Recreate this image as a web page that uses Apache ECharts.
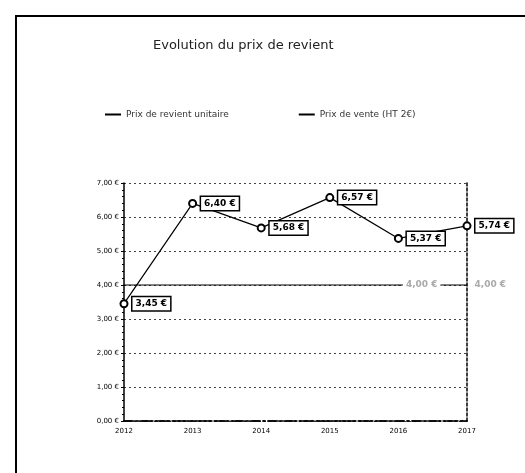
<!DOCTYPE html>
<html><head><meta charset="utf-8">
<script src="https://cdn.jsdelivr.net/npm/echarts@6/dist/echarts.min.js"></script>
<style>html,body{margin:0;padding:0;background:#fff}#c{width:525px;height:473px}</style>
</head><body><div id="c"></div>
<script>
const years = ['2012','2013','2014','2015','2016','2017'];
const prixRevient = [3.45, 6.40, 5.68, 6.57, 5.37, 5.74];
const prixVente = [4.00, 4.00, 4.00, 4.00, 4.00, 4.00];
const yTicks = [0,1,2,3,4,5,6,7];
const titleText = 'Evolution du prix de revient';
const seriesNames = ['Prix de revient unitaire', 'Prix de vente (HT 2€)'];

const fmt = v => v.toFixed(2).replace('.', ',') + ' €';
const chart = echarts.init(document.getElementById('c'));
chart.setOption({
  animation: false,
  backgroundColor: '#fff',
  title: { text: titleText, left: 148, top: 34, textStyle: { fontFamily: 'DejaVu Sans', fontSize: 13, fontWeight: 'normal', color: '#222' } },
  legend: {
    top: 105, left: 100, itemGap: 70, itemWidth: 16, itemHeight: 2,
    textStyle: { fontFamily: 'DejaVu Sans', fontSize: 9, color: '#333' },
    data: [{ name: seriesNames[0], icon: 'rect' }, { name: seriesNames[1], icon: 'rect' }]
  },
  graphic: [{ type: 'polyline', shape: { points: [[16, 480], [16, 16], [530, 16]] }, style: { stroke: '#000', lineWidth: 2, fill: null } }],
  grid: { left: 124, right: 58, top: 183, bottom: 52 },
  xAxis: [{
    type: 'category', data: years, boundaryGap: false,
    axisLine: { lineStyle: { color: '#000', type: [8, 3, 2, 3], width: 1.5 } },
    axisTick: { show: false },
    axisLabel: { fontFamily: 'DejaVu Sans', fontSize: 7, color: '#000', margin: 7 }
  }, {
    type: 'category', data: years, boundaryGap: false, position: 'top',
    axisLine: { show: true, lineStyle: { color: '#000', type: [10, 3, 2, 3], width: 1.5 } },
    axisTick: { show: false }, axisLabel: { show: false }
  }],
  yAxis: [{
    type: 'value', min: 0, max: 7, interval: 1,
    axisLine: { show: true, lineStyle: { color: '#000', width: 1.5 } },
    axisTick: { show: true, length: 3, lineStyle: { color: '#000' } },
    minorTick: { show: true, splitNumber: 5, length: 2, lineStyle: { color: '#000' } },
    axisLabel: { fontFamily: 'DejaVu Sans', fontSize: 7, color: '#000', margin: 5, formatter: v => yTicks.includes(v) ? fmt(v) : '' },
    splitLine: { show: true, lineStyle: { color: '#444', type: [2, 3], width: 1 } }
  }, {
    type: 'value', min: 0, max: 7, interval: 1, position: 'right',
    axisLine: { show: true, lineStyle: { color: '#000', type: [3, 2], width: 1.5 } },
    axisTick: { show: false }, axisLabel: { show: false }, splitLine: { show: false }
  }],
  series: [{
    name: seriesNames[0], type: 'line', data: prixRevient,
    symbol: 'emptyCircle', symbolSize: 7,
    lineStyle: { color: '#000', width: 1.2 }, itemStyle: { color: '#000', borderWidth: 1.5 },
    label: {
      show: true, position: 'right', distance: 4, formatter: p => fmt(p.value),
      fontFamily: 'DejaVu Sans', fontSize: 9, fontWeight: 'bold', color: '#000',
      backgroundColor: '#fff', borderColor: '#000', borderWidth: 1.5, padding: [2, 3]
    },
    z: 3
  }, {
    name: seriesNames[1], type: 'line',
    data: prixVente.map((v, i) => ({ value: v, label: { show: i >= 4 } })),
    symbol: 'circle', symbolSize: 1, showSymbol: true,
    lineStyle: { color: '#000', width: 1 }, itemStyle: { color: '#000' },
    label: {
      show: true, position: 'right', distance: 4, formatter: p => fmt(p.value),
      fontFamily: 'DejaVu Sans', fontSize: 9, fontWeight: 'bold', color: '#aaa',
      backgroundColor: '#fff', padding: [2, 3]
    },
    labelLayout: { hideOverlap: false }
  }]
});
</script></body></html>
